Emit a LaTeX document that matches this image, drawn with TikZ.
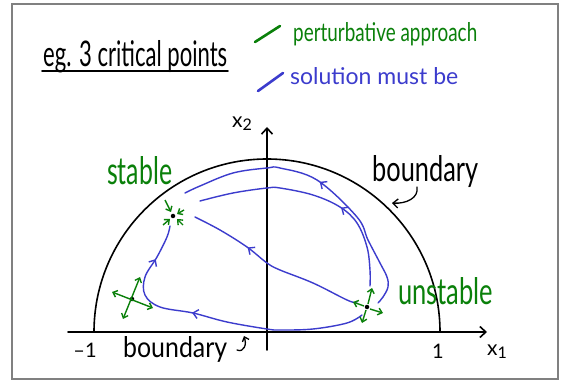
\documentclass[tikz,border=0pt]{standalone}
\usepackage{fontspec}
\setmainfont{Lato}
\usepackage{graphicx}
\usetikzlibrary{arrows.meta,decorations.markings}
\definecolor{pgreen}{RGB}{10,128,10}
\definecolor{pblue}{RGB}{60,60,205}
\definecolor{framegray}{RGB}{128,128,128}
\tikzset{
  blk/.style={black,line width=1.6pt,line cap=round},
  sol/.style={pblue,line width=1.4pt,line cap=round},
  garr/.style={pgreen,line width=1.4pt,-{Straight Barb[length=4pt,width=7pt]}},
  gdbl/.style={pgreen,line width=1.4pt,{Straight Barb[length=4pt,width=7pt]}-{Straight Barb[length=4pt,width=7pt]}},
  marr/.style={postaction={decorate,decoration={markings,mark=at position #1 with {\arrow{Straight Barb[length=5pt,width=9pt]}}}}},
  txt/.style={inner sep=0pt,anchor=base west},
  cpt/.style={circle,fill=black,inner sep=0pt,minimum size=4.5pt}
}
\begin{document}
\begin{tikzpicture}[x=1pt,y=-1pt]
\useasboundingbox (0,0) rectangle (565,382);
\fill[white] (0,0) rectangle (565,382);
\draw[framegray,line width=2pt] (12,4) rectangle (558,379);

% title and legend
\node[txt] (title) at (43,67) {\resizebox{184pt}{26pt}{eg. 3 critical points}};
\draw[blk] (42,71) -- (228,71);
\coordinate (g1) at (255,42); \coordinate (g2) at (280,26);
\draw[pgreen,line width=2.6pt,line cap=round] (g1) -- (g2);
\node[txt,text=pgreen] (leg1) at (293,42) {\resizebox{184pt}{19pt}{perturbative approach}};
\coordinate (b1) at (258,91); \coordinate (b2) at (283,73);
\draw[pblue,line width=2.6pt,line cap=round] (b1) -- (b2);
\node[txt,text=pblue] (leg2) at (290,85) {\resizebox{168pt}{17pt}{solution must be}};

% axes
\coordinate (O) at (267,332);
\coordinate (xl) at (68,332); \coordinate (xr) at (487,332);
\coordinate (yb) at (267,350); \coordinate (yt) at (267,127);
\draw[blk,-{Straight Barb[length=6pt,width=11pt]}] (xl) -- (xr);
\draw[blk,-{Straight Barb[length=6pt,width=11pt]}] (yb) -- (yt);
\draw[blk] (94,332) arc[start angle=180,end angle=360,radius=173];

\node[txt] (x2) at (232,128) {\scalebox{2.1}{x}\raisebox{-3pt}{\scalebox{1.6}{2}}};
\node[txt] (x1) at (487,355) {\scalebox{2.1}{x}\raisebox{-3pt}{\scalebox{1.6}{1}}};
\node[inner sep=0pt] (m1) at (85,350) {\scalebox{2}{–1}};
\node[inner sep=0pt] (p1) at (438,351) {\scalebox{2}{1}};

% boundary labels
\node[txt] (bd1) at (372,182) {\resizebox{106pt}{26pt}{boundary}};
\draw[blk,line width=1.3pt,-{Straight Barb[length=5pt,width=9pt]}] (417,187) .. controls (419,198) and (406,204) .. (392,203);
\node[txt] (bd2) at (123,357) {\resizebox{104pt}{21pt}{boundary}};
\draw[blk,line width=1.3pt,-{Straight Barb[length=4pt,width=7pt]}] (237,350) .. controls (244,353) and (247,344) .. (244,336);

\node[txt,text=pgreen] (st) at (107,185) {\resizebox{65pt}{28pt}{stable}};
\node[txt,text=pgreen] (ust) at (398,305) {\resizebox{95pt}{27pt}{unstable}};

% critical points
\node[cpt] (S) at (173,216) {};
\node[cpt] (D) at (132,299) {};
\node[cpt] (U) at (367,307) {};

% solutions
\draw[sol,marr=0.51] plot[smooth,tension=0.6] coordinates {(378,303) (383,297) (388,287) (387,277) (380,263) (368,240) (357,217) (317,180) (280,168) (267,168) (233,173) (200,186) (185,193)};
\draw[sol,marr=0.375] plot[smooth,tension=0.6] coordinates {(370,286) (370,270) (367,247) (357,223) (340,207) (313,195) (280,188) (267,188) (233,193) (200,201)};
\draw[sol,marr=0.67] plot[smooth,tension=0.6] coordinates {(357,303) (347,300) (313,283) (280,270) (267,263) (247,247) (220,230) (195,217)};
\draw[sol,marr=0.577,marr=0.88] plot[smooth,tension=0.6] coordinates {(362,315) (347,323) (313,329) (280,330) (267,329) (227,322) (193,313) (160,307) (145,295) (145,277) (157,257) (167,237) (170,226)};

% green arrows
\draw[garr] (165,200) -- (171,212);
\draw[garr] (184,210) -- (177,214);
\draw[garr] (183,225) -- (177,219);
\draw[garr] (163,225) -- (170,219);
\draw[gdbl] (112,292) -- (153,308);
\draw[gdbl] (123,319) -- (140,277);
\draw[garr] (368,304) -- (372,288);
\draw[garr] (364,306) -- (353,302);
\draw[garr] (366,310) -- (362,323);
\draw[garr] (370,309) -- (383,313);
\end{tikzpicture}
\end{document}
